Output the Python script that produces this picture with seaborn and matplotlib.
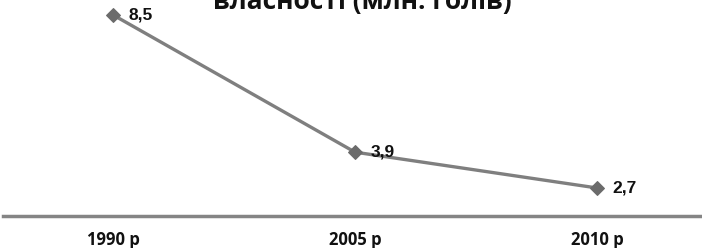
import matplotlib
matplotlib.use('Agg')
import matplotlib.pyplot as plt
import seaborn as sns

# дані
years = ['1990 р', '2005 р', '2010 р']
values = [8.5, 3.9, 2.7]
labels = ['8,5', '3,9', '2,7']

sns.set_style('white')
plt.rcParams['font.family'] = ['Open Sans', 'DejaVu Sans']

fig = plt.figure(figsize=(7.02, 2.48), dpi=100)
ax = fig.add_axes([3 / 702, 32 / 248, 699 / 702, 216 / 248])

sns.lineplot(x=years, y=values, ax=ax, color='#7f7f7f', linewidth=2.4,
             marker='D', markersize=7.5, markerfacecolor='#6b6b6b',
             markeredgecolor='#6b6b6b', sort=False)

for i, (v, t) in enumerate(zip(values, labels)):
    ax.annotate(t, (i, v), xytext=(11, 0), textcoords='offset points',
                va='center', ha='left', fontsize=12.5, fontweight='bold',
                fontfamily=['Liberation Sans', 'DejaVu Sans'], color='#111111')

ax.set_xlim(-110 / 242, 589 / 242)
ax.set_ylim(1.76, 9.0)
ax.set_yticks([])
ax.set_xlabel('')
ax.set_ylabel('')
for s in ['top', 'right', 'left']:
    ax.spines[s].set_visible(False)
ax.spines['bottom'].set_color('#858585')
ax.spines['bottom'].set_linewidth(2.5)
ax.tick_params(axis='x', length=0, pad=11, labelsize=12, labelcolor='#111111')
for lb in ax.get_xticklabels():
    lb.set_fontweight('bold')

fig.text(0.516, 1 - 9 / 248, 'власності (млн. голів)', ha='center', va='baseline',
         fontsize=19, fontweight='bold', color='#111111')

fig.savefig('out.png', dpi=100)
